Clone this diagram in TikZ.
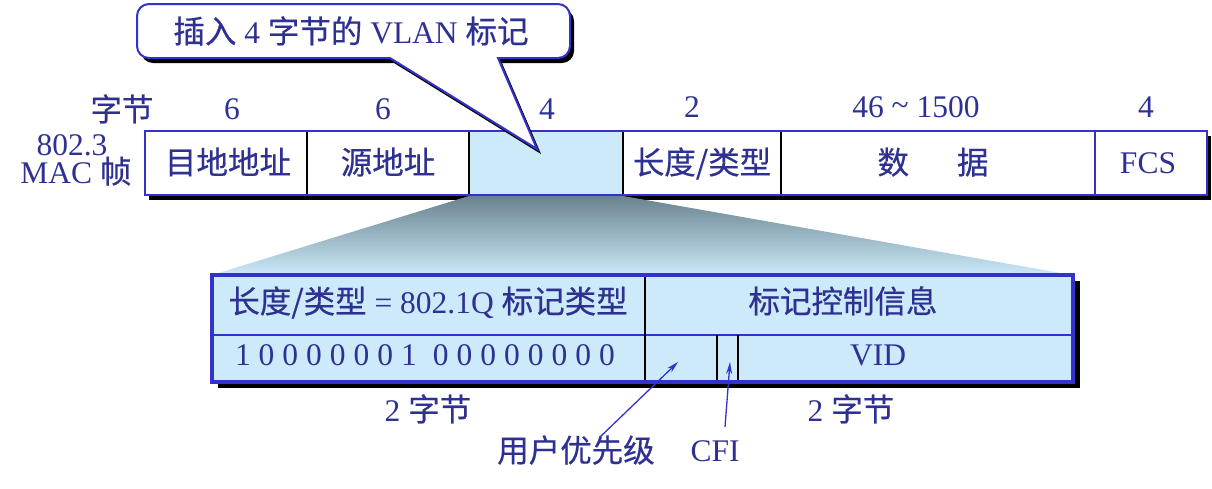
\documentclass[tikz,border=0pt]{standalone}
\usepackage{fontspec}
\setmainfont{Liberation Serif}
\newfontfamily\cjk[FakeBold=0.5]{Noto Sans CJK SC}
\usetikzlibrary{arrows.meta}
\definecolor{txtblue}{RGB}{46,49,146}
\definecolor{lineblue}{RGB}{51,51,204}
\definecolor{cellblue}{RGB}{204,234,250}
\definecolor{funtop}{RGB}{105,130,142}
\tikzset{
  lbl/.style={inner sep=0pt, anchor=base, text=txtblue, font=\fontsize{31.5}{37}\selectfont},
  sep/.style={draw=black, line width=2pt},
  pointer/.style={draw=lineblue, line width=1.3pt, -{Stealth[length=12pt,width=6pt]}},
}
\begin{document}
\begin{tikzpicture}[x=1pt,y=1pt]
\useasboundingbox (0,0) rectangle (1212,-488);
% top labels
\node[lbl] (bytes) at (122,-121) {\cjk 字节};
\node[lbl] (n1) at (232,-119) {6};
\node[lbl] (n2) at (383,-119) {6};
\node[lbl] (n3) at (547,-119) {4};
\node[lbl] (n4) at (692,-117) {2};
\node[lbl] (n5) at (916,-117) {46 \raisebox{2pt}{\textasciitilde} 1500};
\node[lbl] (n6) at (1146,-117) {4};
\node[lbl] (l8023) at (72,-155) {802.3};
\node[lbl] (lmac) at (76,-183) {MAC {\cjk 帧}};
% top frame shadow
\fill[black] (149,-136) rectangle (1211,-200);
% funnel
\shade[top color=funtop, bottom color=cellblue] (469,-196) -- (623,-196) -- (1072,-275) -- (212,-275) -- cycle;
% top frame
\fill[white] (145,-131) rectangle (1207,-195);
\fill[cellblue] (469,-131) rectangle (623,-195);
\draw[sep] (307,-131) -- (307,-195);
\draw[sep] (469,-131) -- (469,-195);
\draw[sep] (623,-131) -- (623,-195);
\draw[sep] (781,-131) -- (781,-195);
\draw[draw=lineblue, line width=2pt] (1095,-131) -- (1095,-195);
\draw[draw=lineblue, line width=2.2pt] (145,-131) rectangle (1207,-195);
\node[lbl] (dst) at (228,-174) {\cjk 目地地址};
\node[lbl] (src) at (388,-174) {\cjk 源地址};
\node[lbl] (lt) at (702,-174) {\cjk 长度/类型};
\node[lbl] (data) at (933,-174) {\cjk 数\hspace{48pt}据};
\node[lbl] (fcs) at (1148,-173) {FCS};
% callout
\fill[black] ([shift={(4,-5)}]537,-149) -- ([shift={(4,-5)}]498,-58) -- ([shift={(4,-5)}]558,-58)
  arc[start angle=-90,end angle=0,radius=12] -- ([shift={(4,-5)}]570,-16)
  arc[start angle=0,end angle=90,radius=12] -- ([shift={(4,-5)}]149,-4)
  arc[start angle=90,end angle=180,radius=12] -- ([shift={(4,-5)}]137,-46)
  arc[start angle=180,end angle=270,radius=12] -- ([shift={(4,-5)}]390,-58) -- cycle;
\filldraw[fill=white, draw=lineblue, line width=2pt, line join=miter]
  (537,-149) -- (498,-58) -- (558,-58)
  arc[start angle=-90,end angle=0,radius=12] -- (570,-16)
  arc[start angle=0,end angle=90,radius=12] -- (149,-4)
  arc[start angle=90,end angle=180,radius=12] -- (137,-46)
  arc[start angle=180,end angle=270,radius=12] -- (390,-58) -- cycle;
\node[lbl] (callout) at (351,-43) {{\cjk 插入} 4 {\cjk 字节的} VLAN {\cjk 标记}};
% lower frame
\fill[black] (218,-281) rectangle (1080,-388);
\fill[cellblue] (212,-275) rectangle (1073,-382);
\draw[draw=lineblue, line width=2.5pt] (212,-335) -- (1075,-335);
\draw[sep] (645,-275) -- (645,-382);
\draw[sep] (717,-335) -- (717,-386);
\draw[sep] (738,-335) -- (738,-386);
\draw[draw=lineblue, line width=3.5pt] (212,-275) rectangle (1073,-382);
\node[lbl] (ltq) at (428,-313) {{\cjk 长度/类型} = 802.1Q {\cjk 标记类型}};
\node[lbl] (tci) at (843,-313) {\cjk 标记控制信息};
\node[lbl] (bits) at (425,-365) {1\hspace{8pt}0\hspace{8pt}0\hspace{8pt}0\hspace{8pt}0\hspace{8pt}0\hspace{8pt}0\hspace{8pt}1\hspace{16pt}0\hspace{8pt}0\hspace{8pt}0\hspace{8pt}0\hspace{8pt}0\hspace{8pt}0\hspace{8pt}0\hspace{8pt}0};
\node[lbl] (vid) at (878,-365) {VID};
\node[lbl] (b2l) at (428,-421) {2 {\cjk 字节}};
\node[lbl] (b2r) at (851,-421) {2 {\cjk 字节}};
\node[lbl] (prio) at (576,-462) {\cjk 用户优先级};
\node[lbl] (cfi) at (715,-461) {CFI};
% arrows
\coordinate (prioS) at (600,-437);
\coordinate (prioT) at (678,-362);
\coordinate (cfiS) at (725,-427);
\coordinate (cfiT) at (730,-362);
\draw[pointer] (prioS) -- (prioT);
\draw[pointer] (cfiS) -- (cfiT);
\end{tikzpicture}
\end{document}
